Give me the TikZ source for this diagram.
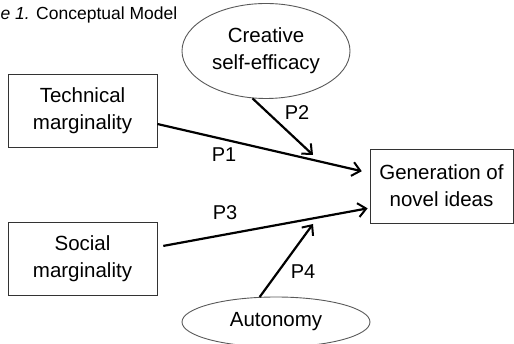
\documentclass[tikz,border=0pt]{standalone}
\usepackage{fontspec}
\setmainfont{Liberation Sans}
\usetikzlibrary{shapes.geometric,arrows.meta}

\begin{document}
\begin{tikzpicture}[x=1pt,y=-1pt,
                    box/.style={draw=black!80,line width=0.8pt,minimum width=149pt,minimum height=73pt,
                                align=center,font=\fontsize{20.5}{27}\selectfont},
                    oval/.style={ellipse,draw=black!65,line width=0.9pt,inner sep=0pt,
                                 align=center,font=\fontsize{20.5}{27}\selectfont},
                    path/.style={line width=2.2pt,-{Straight Barb[length=8pt,width=14pt,line width=2pt]}},
                    lbl/.style={font=\fontsize{20}{24}\selectfont}]
    \useasboundingbox (0,0) rectangle (514,344);
    \node[anchor=base west,font=\fontsize{17.5}{20}\selectfont] (title) at (-3,20) {\textit{e 1.} Conceptual Model};
    % constructs
    \node[box] (tech) at (82.5,111) {Technical\\marginality};
    \node[box] (social) at (82.5,259) {Social\\marginality};
    \node[box,minimum width=143pt,minimum height=74pt] (gen) at (441.5,186) {Generation of\\novel ideas};
    \node[oval,minimum width=168pt,minimum height=95pt] (cse) at (266,51) {Creative\\self-efficacy};
    \node[oval,minimum width=188pt,minimum height=50pt] (aut) at (276,322) {Autonomy};
    \coordinate (p2end) at (313,155);
    \coordinate (p4end) at (313,224);
    % propositions
    \draw[path,shorten >=8pt] ([yshift=-13pt]tech.east) -- ([yshift=13pt]gen.west);
    \draw[path] (cse.254) -- (p2end);
    \draw[path,shorten <=6pt,shorten >=2pt] ([yshift=12pt]social.east) -- ([yshift=-22pt]gen.west);
    \draw[path] (aut.123) -- (p4end);
    \node[lbl] (p1) at (224,155) {P1};
    \node[lbl] (p2) at (297,113) {P2};
    \node[lbl] (p3) at (225,213) {P3};
    \node[lbl] (p4) at (303,272) {P4};
\end{tikzpicture}
\end{document}
